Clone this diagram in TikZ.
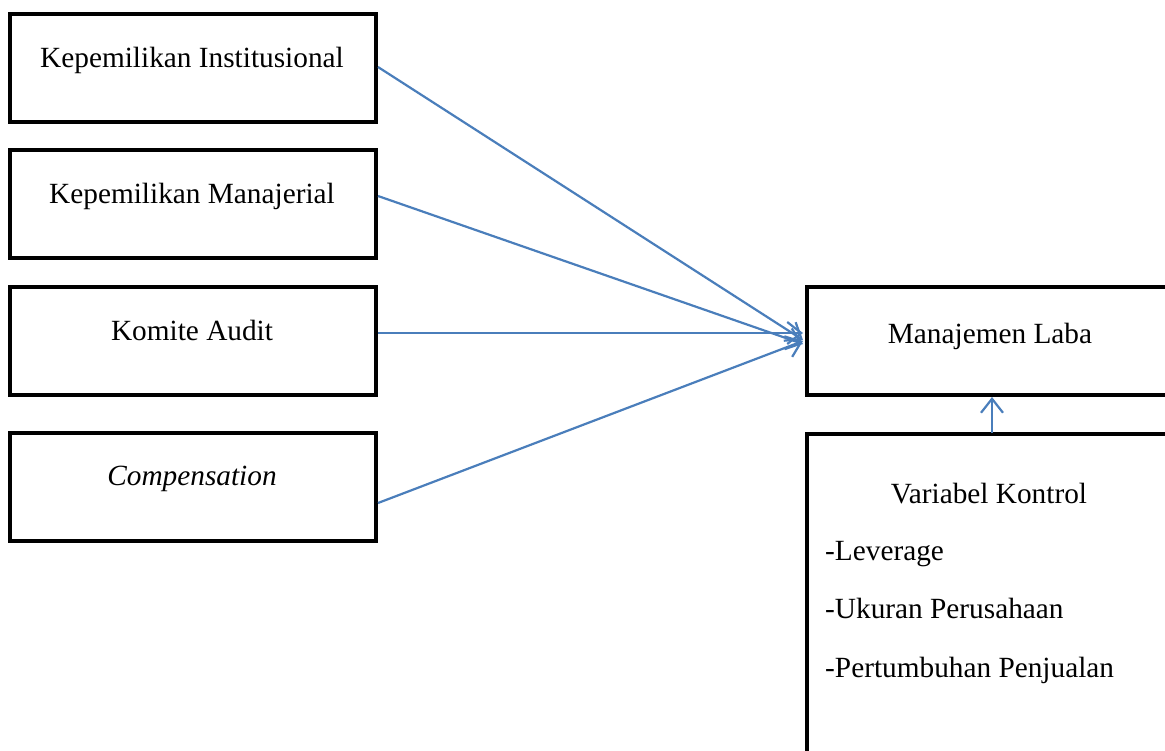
\documentclass[tikz,border=0pt]{standalone}
\usepackage{fontspec}
\setmainfont{Liberation Serif}
\usetikzlibrary{arrows.meta}
\definecolor{arrowblue}{HTML}{4A7EBB}
\begin{document}
\begin{tikzpicture}[x=1pt,y=-1pt,
  box/.style={draw=black,line width=4.5pt,minimum width=366pt,minimum height=108pt,inner sep=0pt,outer sep=0pt,anchor=north west},
  txt/.style={font=\fontsize{29.3}{35}\selectfont,anchor=base,inner sep=0pt},
  ltxt/.style={font=\fontsize{29.3}{35}\selectfont,anchor=base west,inner sep=0pt},
  conn/.style={draw=arrowblue,line width=2.2pt,-{Straight Barb[length=14pt,width=22pt,line width=2.2pt]}}]
\useasboundingbox (0,0) rectangle (1165,750);
\begin{scope}
\clip (0,0) rectangle (1165,750);
\node[box] (b1) at (10,14) {};
\node[box] (b2) at (10,150) {};
\node[box] (b3) at (10,287) {};
\node[box] (b4) at (10,433) {};
\node[box,minimum width=380pt] (ml) at (807,287) {};
\node[box,minimum width=380pt,minimum height=340pt] (vk) at (807,434) {};
\end{scope}
\node[txt] (t1) at (192,67) {Kepemilikan Institusional};
\node[txt] (t2) at (192,203) {Kepemilikan Manajerial};
\node[txt] (t3) at (192,340) {Komite Audit};
\node[txt] (t4) at (192,485) {\itshape Compensation};
\node[txt] (t5) at (990,343) {Manajemen Laba};
\node[txt] (t6) at (989,503) {Variabel Kontrol};
\node[ltxt] (t7) at (825,560) {-Leverage};
\node[ltxt] (t8) at (825,618) {-Ukuran Perusahaan};
\node[ltxt] (t9) at (825,677) {-Pertumbuhan Penjualan};
\coordinate (s1) at (378,67);
\coordinate (s2) at (378,196);
\coordinate (s3) at (378,333);
\coordinate (s4) at (378,503);
\coordinate (e1) at (803,340);
\coordinate (e2) at (803,344);
\coordinate (e3) at (803,333);
\coordinate (e4) at (803,341);
\draw[conn] (s1) -- (e1);
\draw[conn] (s2) -- (e2);
\draw[conn] (s3) -- (e3);
\draw[conn] (s4) -- (e4);
\coordinate (u1) at (992,433);
\coordinate (u2) at (992,397);
\draw[conn] (u1) -- (u2);
\end{tikzpicture}
\end{document}
